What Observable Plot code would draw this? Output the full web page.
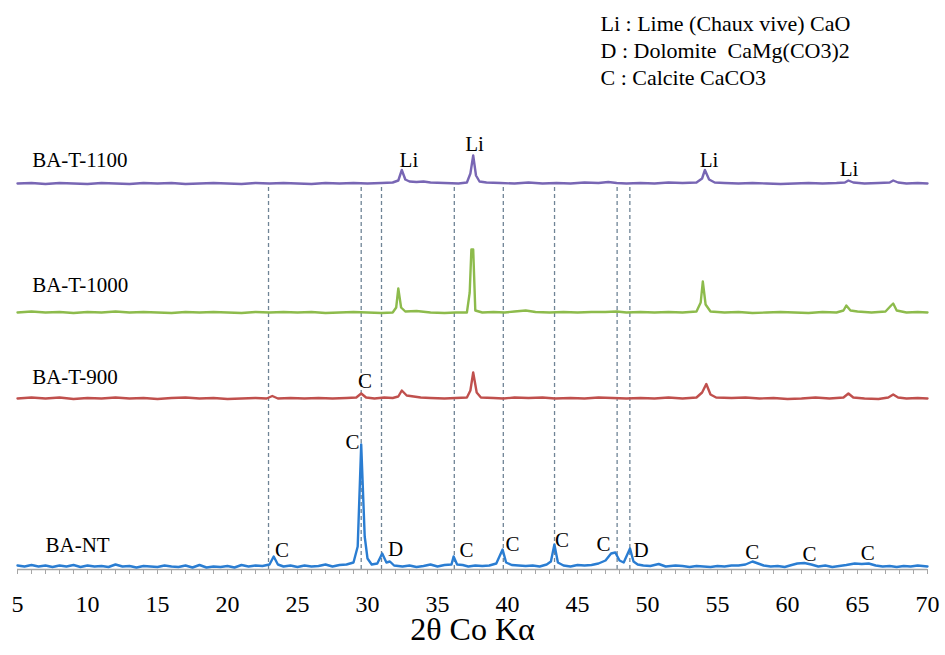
<!DOCTYPE html>
<html><head><meta charset="utf-8">
<script src="https://cdn.jsdelivr.net/npm/d3@7"></script>
<script src="https://cdn.jsdelivr.net/npm/@observablehq/plot@0.6"></script>
<style>
body{margin:0;background:#fff}
</style>
</head><body><div id="chart"></div>
<script>
const seriesNames = ["BA-T-1100", "BA-T-1000", "BA-T-900", "BA-NT"];
const seriesOffsets = [383, 254, 168, 0];
const seriesColors = ["#7866b4", "#8dbb4c", "#c0504d", "#2a7dd2"];

const ptsT1100 = [[5,0],[6,0.5],[7,-0.5],[8,0.5],[9,0],[10,-0.5],[11,0.5],[12,0],[13,-0.5],[14,0.5],[15,0],[16,0.5],[17,-0.5],[18,0],[19,0.5],[20,0],[21,-0.5],[22,0.5],[23,0],[24,0.5],[25,0],[26,-0.5],[27,0.5],[28,0],[29,0.5],[30,0],[31,0.5],[31.8,1],[32.2,3],[32.45,13.5],[32.7,4],[33,2],[33.5,1.5],[34,2],[34.5,1],[35.5,0.5],[36.5,0],[37.1,1],[37.35,10],[37.55,28],[37.75,8],[38,2],[38.5,1],[39.5,0.5],[40.5,0],[41.5,1],[42.5,0],[43.5,0.5],[44.5,0],[45.5,1],[46.5,0.5],[47.2,1.5],[47.8,0.5],[48.5,0],[49.5,0.5],[50.5,0],[51.5,1],[52.5,0.5],[53.5,1],[53.9,5],[54.1,13.5],[54.4,4],[54.8,1],[55.5,0.5],[56.5,0],[57.5,0.5],[58.5,0],[59.5,-0.5],[60.5,0],[61.5,0.5],[62.5,0],[63.5,0.5],[64.1,1],[64.35,3],[64.7,1],[65.5,0],[66.5,0.5],[67.3,1],[67.55,3],[67.9,1],[68.5,0],[69.3,0.5],[70,0]];
const ptsT1000 = [[5,0],[6,1],[7,0],[8,0.5],[9,-0.5],[10,0.5],[11,0],[12,1],[13,0],[14,0.5],[15,0],[16,-0.5],[17,0.5],[18,0],[19,0.5],[20,0],[21,-0.5],[22,0.5],[23,0],[24,0.5],[25,0],[26,0.5],[27,-0.5],[28,0],[29,0.5],[30,0],[31,-0.5],[31.8,0],[32.05,5],[32.2,24],[32.4,5],[32.7,1],[33.5,1.5],[34.5,0],[35.5,-0.5],[36.3,0],[37.1,0],[37.3,20],[37.42,63],[37.55,63],[37.7,2],[38.2,0],[39,0.5],[39.8,0],[40.5,1],[41.3,2],[42,0.5],[43,0],[44,0.5],[45,0],[46,0.5],[47,0.5],[47.8,1],[48.5,0],[49.5,0.5],[50.5,0],[51.5,0.5],[52.5,0],[53.5,1],[53.8,10],[53.95,31],[54.15,8],[54.5,1],[55.5,0],[56.5,0.5],[57.5,-0.5],[58.5,0],[59.5,0.5],[60.5,0],[61.5,-0.5],[62.5,0.5],[63.5,0],[64,2],[64.2,7],[64.5,2],[65,1],[66,0],[67,1],[67.4,7],[67.55,9],[67.8,2],[68.5,0],[69.3,0.5],[70,0]];
const ptsT900 = [[5,0],[6,1],[7,0],[8,1],[9,-0.5],[10,0.5],[11,0],[12,1],[13,0],[14,0.5],[15,-0.5],[16,0.5],[17,1],[18,0],[19,0.5],[20,-0.5],[21,0],[22,0.5],[22.8,0],[23.2,2.5],[23.6,0],[24.5,0.5],[25.5,0],[26.5,0.5],[27.5,0],[28.5,0.5],[29.2,1],[29.55,5],[29.9,1],[30.5,0],[31.2,1],[31.8,0.5],[32.2,2],[32.45,8],[32.8,3],[33.3,2],[33.8,1],[34.5,0.5],[35.5,0],[36.3,0.5],[37.1,1],[37.35,8],[37.55,26],[37.8,6],[38.1,1],[39,0.5],[39.7,0],[40.5,1],[41.5,0.5],[42.5,1],[43.4,0],[44.5,0.5],[45.5,0],[46.5,1],[47.5,0.5],[48.5,0],[49.5,0.5],[50.5,0],[51.5,1],[52.5,0],[53.5,1],[53.9,6],[54.2,14.5],[54.5,4],[54.9,1],[56,0.5],[57,1],[58,0],[59,0.5],[60,-0.5],[61,0],[62,1],[63,0],[64,1],[64.35,5],[64.7,1],[65.5,0],[66.5,-0.5],[67.2,1],[67.55,4],[67.9,1],[68.5,0],[69.3,0.5],[70,0]];
const ptsNT = [[5,1],[5.5,0],[6,1.5],[6.5,0],[7,1],[7.5,-0.5],[8,1],[8.5,0],[9,1.5],[9.5,-0.5],[10,1],[10.5,0],[11,0.5],[11.5,-0.5],[12,2],[12.5,0],[13,0.5],[13.5,-1],[14,0.5],[14.5,0],[15,-0.5],[15.5,1],[16,0],[16.5,-0.5],[17,1],[17.5,-1],[18,1.5],[18.5,-1],[19,0],[19.5,-0.5],[20,0.5],[20.5,-1],[21,1.5],[21.5,0],[22,1],[22.5,0.5],[23,2],[23.3,10],[23.6,2],[24,0],[24.5,1],[25,-0.5],[25.5,1],[26,0],[26.5,0.5],[27,2],[27.5,0],[28,1.5],[28.5,2],[29,4],[29.3,20],[29.55,122],[29.8,30],[30,8],[30.3,2],[30.7,3],[31.05,13],[31.35,4],[31.6,5],[31.9,1],[32.5,0],[33,1],[33.5,-0.5],[34,0.5],[34.5,2],[35,0],[35.5,1.5],[36,2],[36.15,10],[36.4,2],[36.8,1.5],[37.2,0],[37.7,1],[38.2,0.5],[38.7,1],[39.2,3],[39.65,17],[39.9,4],[40.3,1.5],[40.8,1],[41.3,0.5],[41.8,1],[42.3,0],[42.8,2],[43.1,5],[43.35,22],[43.6,4],[44,1],[44.5,0],[45,1.5],[45.5,1],[46,1.5],[46.5,3],[47,6],[47.4,13],[47.7,14],[48,6],[48.3,4],[48.75,18],[49,5],[49.3,2],[49.7,1],[50.2,0.5],[50.8,2.5],[51.3,0],[52,1],[52.5,0.5],[53,-0.5],[53.5,0.5],[54,0],[54.5,-0.5],[55,0.5],[55.5,0],[56,1],[56.5,1],[57,2],[57.5,5],[57.9,3],[58.3,1],[58.8,0],[59.3,0.5],[59.8,-0.5],[60.3,1.5],[60.7,3],[61.2,3.5],[61.7,2],[62.2,0],[62.7,1],[63.2,-0.5],[63.7,0.5],[64.2,1.5],[64.8,3],[65.3,2.5],[65.8,3],[66.3,1],[66.8,0],[67.3,0.5],[67.8,-0.5],[68.3,0.5],[68.8,0],[69.3,1],[70,0]];
const seriesPoints = [ptsT1100, ptsT1000, ptsT900, ptsNT];

const referenceLines = [22.93, 29.55, 31.0, 36.2, 39.7, 43.36, 47.83, 48.74];

const seriesLabelX = [6.05, 6.05, 6.05, 7.0];
const seriesLabelH = [17, 21, 15, 15];

const peakSeries = ["BA-T-1100","BA-T-1100","BA-T-1100","BA-T-1100","BA-T-900","BA-NT","BA-NT","BA-NT","BA-NT","BA-NT","BA-NT","BA-NT","BA-NT","BA-NT","BA-NT","BA-NT"];
const peakText   = ["Li","Li","Li","Li","C","C","C","D","C","C","C","C","D","C","C","C"];
const peakX      = [32.96,37.64,54.39,64.39,29.82,28.93,23.9,32.0,37.07,40.36,43.9,46.86,49.54,57.48,61.57,65.74];
const peakH      = [17,33,17,8,10.7,117.7,9.3,11,10,15.3,19.3,15.3,9.3,7.7,6,6.7];

const legendLines = ["Li : Lime (Chaux vive) CaO", "D : Dolomite  CaMg(CO3)2", "C : Calcite CaCO3"];
const xTicks = d3.range(5, 71, 5);
const xMinorTicks = d3.range(5, 71, 1);
const xLabel = "2θ Co Kα";

const offsetOf = Object.fromEntries(seriesNames.map((n, i) => [n, seriesOffsets[i]]));
const traces = seriesNames.flatMap((name, i) =>
  seriesPoints[i].map(([x, v]) => ({series: name, x, y: v + seriesOffsets[i]})));
const seriesLabels = seriesNames.map((name, i) => ({name, x: seriesLabelX[i], y: seriesLabelH[i] + seriesOffsets[i]}));
const peaks = peakText.map((t, i) => ({text: t, x: peakX[i], y: peakH[i] + offsetOf[peakSeries[i]]}));

const serif = "Liberation Serif";
const fs = 21;
const chart = Plot.plot({
  width: 945,
  height: 655,
  marginLeft: 17,
  marginRight: 18,
  marginTop: 146,
  marginBottom: 86,
  style: {fontFamily: serif, background: "white", color: "black"},
  x: {domain: [5, 70]},
  y: {domain: [-3, 420], axis: null},
  color: {domain: seriesNames, range: seriesColors},
  marks: [
    Plot.ruleX(referenceLines, {x: d => d, y1: -3, y2: 381, stroke: "#6f8496", strokeWidth: 1.3, strokeDasharray: "4,3"}),
    Plot.ruleY([-3], {stroke: "#a6a6a6", strokeWidth: 1.3}),
    Plot.axisX({ticks: xMinorTicks, tickSize: 5, tickFormat: () => "", stroke: "#a6a6a6", label: null}),
    Plot.axisX({ticks: xTicks, tickSize: 0, tickPadding: 25, fontSize: 24, fontFamily: serif, label: null, tickFormat: d => String(d)}),
    Plot.line(traces, {x: "x", y: "y", z: "series", stroke: "series", strokeWidth: 2.4, curve: "linear"}),
    Plot.text(seriesLabels, {x: "x", y: "y", text: "name", textAnchor: "start", fontSize: fs, fontFamily: serif, dy: -0.32 * fs, fill: "black"}),
    Plot.text(peaks, {x: "x", y: "y", text: "text", fontSize: fs, fontFamily: serif, dy: -0.32 * fs, fill: "black"}),
    Plot.text([xLabel], {frameAnchor: "bottom", text: d => d, fontSize: 32, fontFamily: serif, dy: 81 - 0.32 * 32, fill: "black"}),
    Plot.text([legendLines.join("\n")], {frameAnchor: "top-left", text: d => d, textAnchor: "start", lineAnchor: "top", fontSize: 22, fontFamily: serif, lineHeight: 27 / 22, dx: 583, dy: -134.6, fill: "black"})
  ]
});
document.getElementById("chart").appendChild(chart);
</script>
</body></html>
